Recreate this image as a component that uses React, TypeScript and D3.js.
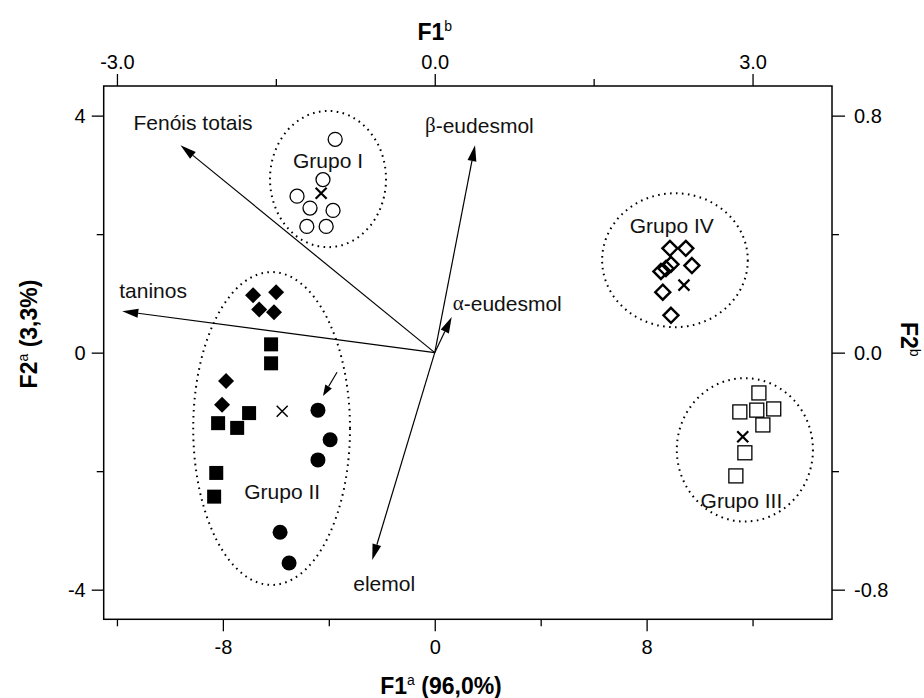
import { useEffect, useRef } from 'react'
import * as d3 from 'd3'

type Pt = [number, number]

// scores (F1, F2)
const grupoI: Pt[] = [[-3.76, 3.6], [-4.22, 2.92], [-5.2, 2.64], [-4.71, 2.44], [-3.84, 2.4], [-4.83, 2.13], [-4.1, 2.13]]
const grupoIIDiamonds: Pt[] = [[-6.86, 0.97], [-5.99, 1.02], [-6.63, 0.73], [-6.07, 0.68], [-7.88, -0.48], [-8.03, -0.88]]
const grupoIISquares: Pt[] = [[-6.18, 0.14], [-6.18, -0.18], [-7.01, -1.02], [-8.18, -1.19], [-7.46, -1.27], [-8.25, -2.03], [-8.33, -2.43]]
const grupoIICircles: Pt[] = [[-4.41, -0.97], [-3.95, -1.47], [-4.41, -1.81], [-5.84, -3.03], [-5.5, -3.55]]
const grupoIV: Pt[] = [[8.88, 1.76], [9.48, 1.76], [9.71, 1.47], [8.54, 1.37], [8.73, 1.42], [8.92, 1.49], [8.61, 1.02], [8.92, 0.63]]
const grupoIII: Pt[] = [[12.24, -0.68], [11.52, -1.0], [12.16, -0.97], [12.8, -0.95], [12.39, -1.22], [11.71, -1.69], [11.37, -2.08]]
const centroids: Pt[] = [[-4.29, 2.69], [-5.76, -0.99], [9.41, 1.14], [11.63, -1.42]]

// group ellipses (center + radii in score units) and labels
const groupNames = ['Grupo I', 'Grupo II', 'Grupo IV', 'Grupo III']
const ellipseCx = [-4.03, -6.16, 9.07, 11.71]
const ellipseCy = [2.93, -1.28, 1.56, -1.64]
const ellipseRx = [2.19, 2.96, 2.75, 2.57]
const ellipseRy = [1.15, 2.64, 1.13, 1.21]
const labelPos: Pt[] = [[-4.03, 3.24], [-5.76, -2.35], [8.95, 2.15], [11.58, -2.49]]

// variable loadings (top / right axes)
const variables = ['Fenóis totais', 'β-eudesmol', 'taninos', 'α-eudesmol', 'elemol']
const loadF1 = [-2.4, 0.38, -2.95, 0.16, -0.59]
const loadF2 = [0.7, 0.7, 0.14, 0.12, -0.7]

// small pointer arrow inside Grupo II
const pointerFrom: Pt = [-3.69, -0.33]
const pointerTo: Pt = [-4.22, -0.73]

const xTicks = [-8, 0, 8]
const xMinor = [-12, -4, 4, 12]
const yTicks = [-4, 0, 4]
const yMinor = [-2, 2]
const topTicks = [-3, 0, 3]
const topMinor = [-1.5, 1.5]
const rightTicks = [-0.8, 0, 0.8]
const rightMinor = [-0.4, 0.4]

const FONT = '"Liberation Sans", Arial, Helvetica, sans-serif'

export default function App() {
  const svgRef = useRef<SVGSVGElement>(null)

  useEffect(() => {
    if (!svgRef.current) return
    const width = 924
    const height = 698
    const left = 103.7, right = 832, top = 86, bottom = 619.3

    const svg = d3.select(svgRef.current)
    svg.selectAll('*').remove()
    svg.attr('width', width).attr('height', height)
    svg.append('rect').attr('width', width).attr('height', height).attr('fill', '#fff')

    const x = d3.scaleLinear().domain([-12.5, 15]).range([left, right])
    const y = d3.scaleLinear().domain([-4.5, 4.5]).range([bottom, top])
    const xL = d3.scaleLinear().domain([-12.5 / 4, 15 / 4]).range([left, right])
    const yL = d3.scaleLinear().domain([-0.9, 0.9]).range([bottom, top])

    const styleAxis = (ax: d3.Selection<SVGGElement, unknown, null, undefined>) => {
      ax.select('.domain').remove()
      ax.selectAll('line').attr('stroke', '#000').attr('stroke-width', 1.3)
      ax.selectAll('text').attr('fill', '#000').attr('font-size', '20px').attr('font-family', FONT)
    }

    // axes
    g(svg, `translate(0,${bottom})`).call(d3.axisBottom(x).tickValues(xTicks).tickSize(12).tickPadding(9).tickFormat(d => String(d))).call(styleAxis)
    g(svg, `translate(0,${bottom})`).call(d3.axisBottom(x).tickValues(xMinor).tickSize(7).tickFormat(() => '')).call(styleAxis)
    g(svg, `translate(0,${top})`).call(d3.axisTop(xL).tickValues(topTicks).tickSize(12).tickPadding(5).tickFormat(d => (+d).toFixed(1))).call(styleAxis)
    g(svg, `translate(0,${top})`).call(d3.axisTop(xL).tickValues(topMinor).tickSize(7).tickFormat(() => '')).call(styleAxis)
    g(svg, `translate(${left},0)`).call(d3.axisLeft(y).tickValues(yTicks).tickSize(12).tickPadding(6).tickFormat(d => String(d))).call(styleAxis)
    g(svg, `translate(${left},0)`).call(d3.axisLeft(y).tickValues(yMinor).tickSize(7).tickFormat(() => '')).call(styleAxis)
    g(svg, `translate(${right},0)`).call(d3.axisRight(yL).tickValues(rightTicks).tickSize(13).tickPadding(9).tickFormat(d => (+d).toFixed(1))).call(styleAxis)
    g(svg, `translate(${right},0)`).call(d3.axisRight(yL).tickValues(rightMinor).tickSize(7).tickFormat(() => '')).call(styleAxis)

    svg.append('rect')
      .attr('x', left).attr('y', top).attr('width', right - left).attr('height', bottom - top)
      .attr('fill', 'none').attr('stroke', '#000').attr('stroke-width', 1.5)

    // axis titles
    const title = (tx: string, sup: string, rest: string, transform: string, anchor: string) => {
      const t = svg.append('text').attr('transform', transform).attr('text-anchor', anchor)
        .attr('font-family', FONT).attr('font-size', '23px').attr('font-weight', 'bold').attr('fill', '#000')
      t.append('tspan').text(tx)
      t.append('tspan').attr('font-size', '14px').attr('font-weight', 'normal').attr('dy', -9).text(sup)
      if (rest) t.append('tspan').attr('dy', 9).text(rest)
    }
    title('F1', 'b', '', `translate(${x(0)},40)`, 'middle')
    title('F1', 'a', ' (96,0%)', `translate(441,694)`, 'middle')
    title('F2', 'a', ' (3,3%)', `translate(37,334) rotate(-90)`, 'middle')
    title('F2', 'b', '', `translate(901,322) rotate(90)`, 'start')

    const plot = svg.append('g')

    // dotted group ellipses
    groupNames.forEach((_, i) => {
      plot.append('ellipse')
        .attr('cx', x(ellipseCx[i])).attr('cy', y(ellipseCy[i]))
        .attr('rx', x(ellipseRx[i]) - x(0)).attr('ry', y(0) - y(ellipseRy[i]))
        .attr('fill', 'none').attr('stroke', '#000').attr('stroke-width', 2)
        .attr('stroke-dasharray', '1.6 4.4')
    })

    // loading vectors
    const arrow = (x0: number, y0: number, x1: number, y1: number, len: number, half: number, sw: number) => {
      const a = Math.atan2(y1 - y0, x1 - x0)
      const bx = x1 - len * Math.cos(a), by = y1 - len * Math.sin(a)
      plot.append('line').attr('x1', x0).attr('y1', y0).attr('x2', bx).attr('y2', by)
        .attr('stroke', '#000').attr('stroke-width', sw)
      const px = -Math.sin(a) * half, py = Math.cos(a) * half
      plot.append('path')
        .attr('d', `M${x1},${y1}L${bx + px},${by + py}L${bx - px},${by - py}Z`)
        .attr('fill', '#000')
    }
    const labelOff: Pt[] = [[-47, -23], [-50, -20], [-3, -21], [1, -14], [-19, 23]]
    variables.forEach((name, i) => {
      const tx = xL(loadF1[i]), ty = yL(loadF2[i])
      arrow(xL(0), yL(0), tx, ty, 16, 4.5, 1.2)
      const t = plot.append('text')
        .attr('x', tx + labelOff[i][0]).attr('y', ty + labelOff[i][1])
        .attr('dominant-baseline', 'central')
        .attr('font-family', FONT).attr('font-size', '21px').attr('fill', '#111')
      if (name[0] === 'α' || name[0] === 'β') {
        t.append('tspan').attr('font-family', '"Liberation Serif", serif').text(name[0])
        t.append('tspan').text(name.slice(1))
      } else {
        t.text(name)
      }
    })
    arrow(x(pointerFrom[0]), y(pointerFrom[1]), x(pointerTo[0]), y(pointerTo[1]), 11, 3.8, 1.2)

    // group labels
    groupNames.forEach((name, i) => {
      plot.append('text')
        .attr('x', x(labelPos[i][0])).attr('y', y(labelPos[i][1]))
        .attr('text-anchor', 'middle').attr('dominant-baseline', 'central')
        .attr('font-family', FONT).attr('font-size', '21px').attr('fill', '#111')
        .text(name)
    })

    // markers
    const diamond = (h: number) => `M0,${-h}L${h},0L0,${h}L${-h},0Z`
    const at = (p: Pt) => `translate(${x(p[0])},${y(p[1])})`

    grupoI.forEach(p => {
      plot.append('circle').attr('cx', x(p[0])).attr('cy', y(p[1])).attr('r', 7)
        .attr('fill', 'none').attr('stroke', '#000').attr('stroke-width', 1.3)
    })
    grupoIIDiamonds.forEach(p => {
      plot.append('path').attr('transform', at(p)).attr('d', diamond(8)).attr('fill', '#000')
    })
    grupoIISquares.forEach(p => {
      plot.append('rect').attr('x', x(p[0]) - 7).attr('y', y(p[1]) - 7).attr('width', 14).attr('height', 14).attr('fill', '#000')
    })
    grupoIICircles.forEach(p => {
      plot.append('circle').attr('cx', x(p[0])).attr('cy', y(p[1])).attr('r', 7.5).attr('fill', '#000')
    })
    grupoIV.forEach(p => {
      plot.append('path').attr('transform', at(p)).attr('d', diamond(7.5))
        .attr('fill', 'none').attr('stroke', '#000').attr('stroke-width', 2.4)
    })
    grupoIII.forEach(p => {
      plot.append('rect').attr('x', x(p[0]) - 7).attr('y', y(p[1]) - 7).attr('width', 14).attr('height', 14)
        .attr('fill', 'none').attr('stroke', '#000').attr('stroke-width', 1.3)
    })
    centroids.forEach((p, i) => {
      const s = 5.5
      plot.append('path').attr('transform', at(p))
        .attr('d', `M${-s},${-s}L${s},${s}M${-s},${s}L${s},${-s}`)
        .attr('stroke', '#000').attr('stroke-width', i === 1 ? 1.5 : 2.2)
    })
  }, [])

  return (
    <svg ref={svgRef} style={{ position: 'absolute', left: 0, top: 0, display: 'block' }} />
  )
}

function g(svg: d3.Selection<SVGSVGElement, unknown, null, undefined>, transform: string) {
  return svg.append('g').attr('transform', transform)
}
